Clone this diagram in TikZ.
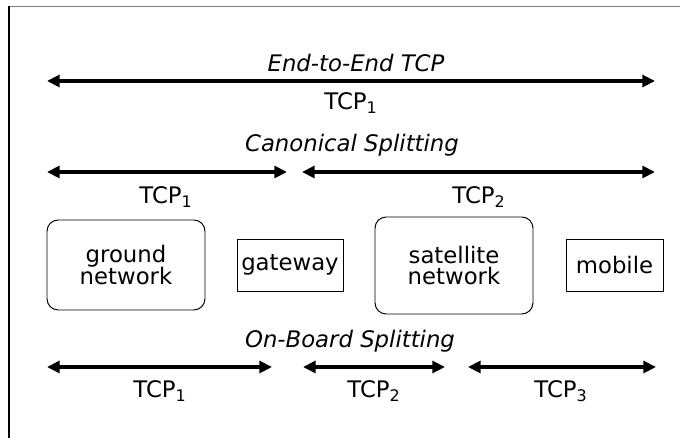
\documentclass[tikz,border=0pt]{standalone}
\usepackage{fontspec}
\setmainfont{DejaVu Sans}
\usetikzlibrary{arrows.meta}

\newcommand{\tcp}[1]{TCP\textsubscript{#1}}

\begin{document}
\begin{tikzpicture}[
                x=0.025cm, y=-0.025cm,
                every node/.style={font=\fontsize{16.2}{18}\selectfont},
                net/.style={draw, rounded corners=8pt, line width=0.7pt,
                        minimum width=158*0.025cm, align=center},
                host/.style={draw, line width=0.7pt, minimum height=52*0.025cm,
                        inner sep=2pt},
                caption/.style={font=\fontsize{16.2}{18}\selectfont\itshape},
                conn/.style={line width=2.8pt,
                        {Triangle[length=9pt,width=8.5pt]}-{Triangle[length=9pt,width=8.5pt]}}
            ]

            \useasboundingbox (0,0) rectangle (680,438);
            \draw[gray, line width=1.4pt] (9,6.5) -- (680,6.5);
            \draw[line width=0.8pt] (9,6) -- (9,438);

            % hosts and networks
            \node[net, minimum height=90*0.025cm] (ground) at (126,265) {ground\\[-3pt]network};
            \node[host, minimum width=106*0.025cm] (gw) at (290,265) {gateway};
            \node[net, minimum height=97*0.025cm] (sat) at (454,265.5) {satellite\\[-3pt]network};
            \node[host, minimum width=97*0.025cm] (mob) at (614.5,265) {mobile};

            % end-to-end
            \node[caption] (e2e) at (356,63) {End-to-End TCP};
            \coordinate (e2eA) at (47,81);
            \coordinate (e2eB) at (655,81);
            \draw[conn] (e2eA) -- (e2eB);
            \node (e2e1) at (351,103) {\tcp{1}};

            % canonical splitting
            \node[caption] (can) at (352,145) {Canonical Splitting};
            \coordinate (canA) at (47,172);
            \coordinate (canB) at (287,172);
            \coordinate (canC) at (302,172);
            \coordinate (canD) at (655,172);
            \draw[conn] (canA) -- (canB);
            \draw[conn] (canC) -- (canD);
            \node (can1) at (166,197) {\tcp{1}};
            \node (can2) at (479,197) {\tcp{2}};

            % on-board splitting
            \node[caption] (onb) at (350,341) {On-Board Splitting};
            \coordinate (onbA) at (47,367);
            \coordinate (onbB) at (272,367);
            \coordinate (onbC) at (303,367);
            \coordinate (onbD) at (445,367);
            \coordinate (onbE) at (468,367);
            \coordinate (onbF) at (656,367);
            \draw[conn] (onbA) -- (onbB);
            \draw[conn] (onbC) -- (onbD);
            \draw[conn] (onbE) -- (onbF);
            \node (onb1) at (160,391) {\tcp{1}};
            \node (onb2) at (374,391) {\tcp{2}};
            \node (onb3) at (561,391) {\tcp{3}};

        \end{tikzpicture}
\end{document}
